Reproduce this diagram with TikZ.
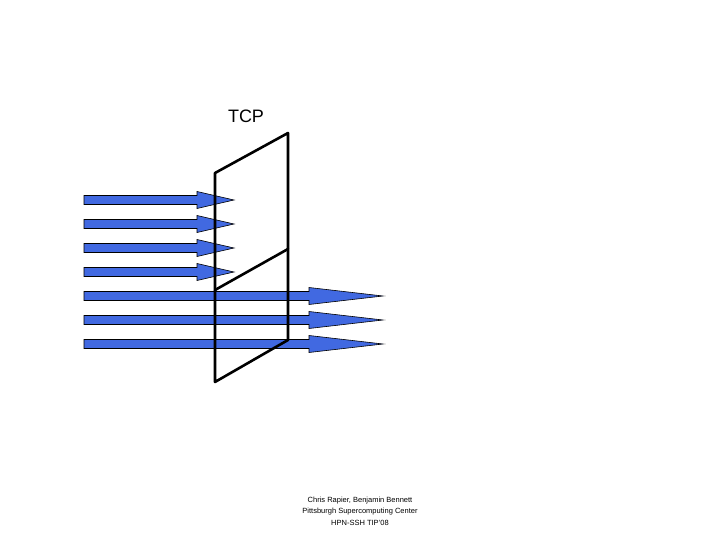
\documentclass[tikz,border=0pt]{standalone}
\usepackage{fontspec}
\setmainfont{Liberation Sans}
\begin{document}
\begin{tikzpicture}[x=1pt,y=-1pt,
  arr/.style={fill={rgb,255:red,65;green,105;blue,225},draw=black,line width=0.6pt},
  frame/.style={draw=black,line width=2.6pt,line cap=round,line join=round}]
\useasboundingbox (0,0) rectangle (720,540);
\foreach \y in {200,224,248,272}{
  \draw[arr] (84,\y-4.5) -- (197,\y-4.5) -- (197,\y-8.5) -- (234,\y) -- (197,\y+8.5) -- (197,\y+4.5) -- (84,\y+4.5) -- cycle;}
\foreach \y in {296,320,344}{
  \draw[arr] (84,\y-4.5) -- (309,\y-4.5) -- (309,\y-8.5) -- (383,\y) -- (309,\y+8.5) -- (309,\y+4.5) -- (84,\y+4.5) -- cycle;}
\coordinate (a) at (215,173); \coordinate (b) at (288,133);
\coordinate (c) at (288,340); \coordinate (d) at (215,382);
\coordinate (e) at (215,290); \coordinate (f) at (288,249);
\draw[frame] (a) -- (b) -- (c) -- (d) -- cycle;
\draw[frame] (e) -- (f);
\node (tcp) at (246,116) {\fontsize{18}{20}\selectfont TCP};
\node[align=center,font=\fontsize{7.5}{11.5}\selectfont] (cr) at (360,511) {Chris Rapier, Benjamin Bennett\\Pittsburgh Supercomputing Center\\HPN-SSH TIP'08};
\end{tikzpicture}
\end{document}
